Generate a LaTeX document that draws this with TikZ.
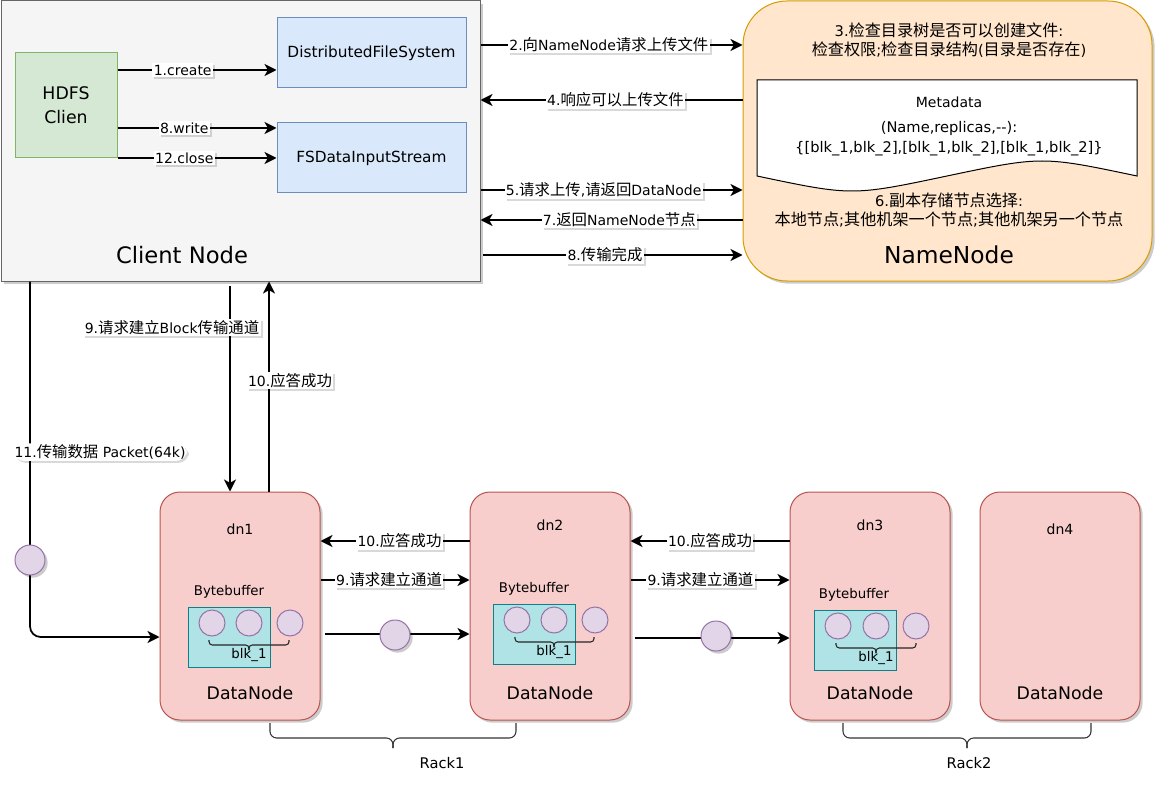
\documentclass[tikz,border=0pt]{standalone}
\usepackage{fontspec}
\setmainfont{DejaVu Sans}
\newfontfamily\cjk[Scale=1.1]{Noto Sans CJK SC}
\newcommand\zhs[1]{{\cjk #1}}
\usetikzlibrary{arrows.meta,shadows,fit}
\definecolor{clientF}{HTML}{F5F5F5}\definecolor{clientD}{HTML}{666666}
\definecolor{greenF}{HTML}{D5E8D4}\definecolor{greenD}{HTML}{82B366}
\definecolor{blueF}{HTML}{DAE8FC}\definecolor{blueD}{HTML}{6C8EBF}
\definecolor{orangeF}{HTML}{FFE6CC}\definecolor{orangeD}{HTML}{D79B00}
\definecolor{redF}{HTML}{F8CECC}\definecolor{redD}{HTML}{B85450}
\definecolor{tealF}{HTML}{B0E3E6}\definecolor{tealD}{HTML}{0E8088}
\definecolor{purpF}{HTML}{E1D5E7}\definecolor{purpD}{HTML}{9673A6}
\begin{document}
\begin{tikzpicture}[x=0.75pt,y=-0.75pt,
  font=\fontsize{10.5}{12.6}\selectfont,
  shd/.style={drop shadow={shadow xshift=2pt,shadow yshift=-2pt,opacity=0.2,fill=black}},
  lshd/.style={drop shadow={shadow xshift=1.5pt,shadow yshift=-1.5pt,opacity=0.15,fill=black}},
  box/.style={draw,line width=0.75pt,inner sep=0pt},
  arr/.style={line width=1.3pt,-{Stealth[length=9pt,width=9pt,inset=2.5pt]}},
  lbl/.style={fill=white,inner sep=1pt,font=\fontsize{10.5}{12.6}\selectfont,lshd},
  circ/.style={circle,draw=purpD,fill=purpF,line width=0.75pt,minimum size=22.5pt,inner sep=0pt},
  smallcirc/.style={circ,minimum size=19.5pt},
  dnbox/.style={box,draw=redD,fill=redF,rounded corners=15pt,shd},
  buf/.style={box,draw=tealD,fill=tealF},
  comp/.style={box,draw=blueD,fill=blueF,minimum width=141.75pt,minimum height=52.5pt,
               font=\fontsize{11.5}{14}\selectfont},
  brace/.style={draw=black!80,line width=0.8pt,rounded corners=5pt},
  sbrace/.style={draw=black!85,line width=0.8pt,rounded corners=2.5pt},
  dnname/.style={font=\fontsize{10.5}{12.6}\selectfont},
  dnlbl/.style={font=\fontsize{13}{15}\selectfont},
  buflbl/.style={font=\fontsize{10}{12}\selectfont},
  nntxt/.style={font=\fontsize{11}{13}\selectfont},
  racklbl/.style={font=\fontsize{11}{13}\selectfont}
]
\useasboundingbox (0,0) rectangle (1163,802);

% ---------- Client node ----------
\node[box,draw=clientD,fill=clientF,shd,fit={(1,1)(480,281)}] (client) {};
\node[font=\fontsize{17}{20}\selectfont] (clientlbl) at (182,255) {Client Node};
\node[box,draw=greenD,fill=greenF,minimum width=76.5pt,minimum height=78.75pt,align=center,
      font=\fontsize{13}{18}\selectfont] (hdfs) at (66,105.5) {HDFS\\Clien};
\node[comp] (dfs) at (371.5,53) {DistributedFileSystem};
\node[comp] (fsd) at (371.5,158) {FSDataInputStream};

\draw[arr] (hdfs.east |- 0,70) -- node[lbl,pos=.41]{1.create} (dfs.west |- 0,70);
\draw[arr] (hdfs.east |- 0,128) -- node[lbl,pos=.42]{8.write} (fsd.west |- 0,128);
\draw[arr] (hdfs.east |- 0,158) -- node[lbl,pos=.42]{12.close} (fsd.west |- 0,158);

% ---------- NameNode ----------
\node[box,draw=orangeD,fill=orangeF,rounded corners=33pt,shd,fit={(743,1)(1152,281)}] (nn) {};
\node[nntxt] (nn1) at (949,30) {3.\zhs{检查目录树是否可以创建文件}:};
\node[nntxt] (nn2) at (949,50) {\zhs{检查权限};\zhs{检查目录结构}(\zhs{目录是否存在})};
\draw[fill=white,draw=black,line width=0.75pt]
  (757,80) -- (1137,80) -- (1137,176) .. controls (1042,156) .. (947,176)
  .. controls (852,196) .. (757,176) -- cycle;
\node[font=\fontsize{10.5}{12.6}\selectfont] (meta) at (949,102) {Metadata};
\node[nntxt] (meta2) at (949,128) {(Name,replicas,-{}-):};
\node[nntxt] (meta3) at (949,149) {\{[blk\_1,blk\_2],[blk\_1,blk\_2],[blk\_1,blk\_2]\}};
\node[nntxt] (nn6) at (949,200) {6.\zhs{副本存储节点选择}:};
\node[nntxt] (nn7) at (949,220) {\zhs{本地节点};\zhs{其他机架一个节点};\zhs{其他机架另一个节点}};
\node[font=\fontsize{17.5}{20}\selectfont] (nnlbl) at (949,255) {NameNode};

\draw[arr] (client.east |- 0,45) -- node[lbl,pos=.49]{2.\zhs{向}NameNode\zhs{请求上传文件}} (nn.west |- 0,45);
\draw[arr] (nn.west |- 0,100) -- node[lbl,pos=.485]{4.\zhs{响应可以上传文件}} (client.east |- 0,100);
\draw[arr] (client.east |- 0,190) -- node[lbl,pos=.47]{5.\zhs{请求上传},\zhs{请返回}DataNode} (nn.west |- 0,190);
\draw[arr] (nn.west |- 0,220) -- node[lbl,pos=.47]{7.\zhs{返回}NameNode\zhs{节点}} (client.east |- 0,220);
\draw[arr] ([xshift=2pt]client.east |- 0,255) -- node[lbl,pos=.47]{8.\zhs{传输完成}} (nn.west |- 0,255);

% ---------- DataNodes ----------
\node[dnbox,fit={(160,492)(320,720)}] (dn1) {};
\node[dnbox,fit={(470,492)(630,720)}] (dn2) {};
\node[dnbox,fit={(790,492)(950,720)}] (dn3) {};
\node[dnbox,fit={(980,492)(1140,720)}] (dn4) {};

\node[dnname] (dn1n) at (240,529) {dn1};
\node[dnname] (dn2n) at (550,525) {dn2};
\node[dnname] (dn3n) at (870,525) {dn3};
\node[dnname] (dn4n) at (1060,529) {dn4};
\node[dnlbl] (dn1l) at (250,693) {DataNode};
\node[dnlbl] (dn2l) at (550,693) {DataNode};
\node[dnlbl] (dn3l) at (870,693) {DataNode};
\node[dnlbl] (dn4l) at (1060,693) {DataNode};

% buffers
\node[buflbl] (bb1) at (229,592) {Bytebuffer};
\node[buflbl] (bb2) at (534,589) {Bytebuffer};
\node[buflbl] (bb3) at (854,595) {Bytebuffer};
\node[buf,fit={(188,607)(270,667)}] (buf1) {};
\node[buf,fit={(493,604)(575,664)}] (buf2) {};
\node[buf,fit={(814,610)(896,670)}] (buf3) {};

\node[smallcirc] (c11) at (212,623) {};
\node[smallcirc] (c12) at (249,623) {};
\node[smallcirc] (c13) at (290,623) {};
\node[smallcirc] (c21) at (517,620) {};
\node[smallcirc] (c22) at (554,620) {};
\node[smallcirc] (c23) at (595,620) {};
\node[smallcirc] (c31) at (838,626) {};
\node[smallcirc] (c32) at (876,626) {};
\node[smallcirc] (c33) at (916,626) {};

\draw[sbrace] (209,640) -- (209,645) -- (249,645) -- (249,650);
\draw[sbrace] (289,640) -- (289,645) -- (249,645) -- (249,650);
\draw[sbrace] (515,637) -- (515,642) -- (554,642) -- (554,647);
\draw[sbrace] (594,637) -- (594,642) -- (554,642) -- (554,647);
\draw[sbrace] (836,643) -- (836,648) -- (876,648) -- (876,653);
\draw[sbrace] (916,643) -- (916,648) -- (876,648) -- (876,653);
\node[buflbl] (blk1) at (249,655) {blk\_1};
\node[buflbl] (blk2) at (554,652) {blk\_1};
\node[buflbl] (blk3) at (876,658) {blk\_1};

% arrows between datanodes
\draw[arr] (dn2.west |- 0,541) -- node[lbl,pos=.47]{10.\zhs{应答成功}} (dn1.east |- 0,541);
\draw[arr] (dn1.east |- 0,580) -- node[lbl,pos=.46]{9.\zhs{请求建立通道}} (dn2.west |- 0,580);
\draw[arr,shorten <=3pt] (dn1.east |- 0,634) -- (dn2.west |- 0,634);
\node[circ,shd] (p1) at (395,635) {};
\draw[arr] (dn3.west |- 0,541) -- node[lbl,pos=.5]{10.\zhs{应答成功}} (dn2.east |- 0,541);
\draw[arr] (dn2.east |- 0,580) -- node[lbl,pos=.44]{9.\zhs{请求建立通道}} (dn3.west |- 0,580);
\draw[arr,shorten <=3pt] (dn2.east |- 0,638) -- (dn3.west |- 0,638);
\node[circ,shd] (p2) at (716,636) {};

% vertical arrows client <-> dn1
\draw[arr,shorten <=3pt] (client.south -| 230,0) -- node[lbl,pos=.22,xshift=-43.5pt]{9.\zhs{请求建立}Block\zhs{传输通道}} (dn1.north -| 230,0);
\draw[arr] (dn1.north -| 269,0) -- node[lbl,pos=.53,xshift=15.75pt]{10.\zhs{应答成功}} (client.south -| 269,0);
\draw[arr,rounded corners=8pt] (client.south -| 30,0) -- node[lbl,pos=.48,xshift=52.5pt]{11.\zhs{传输数据} Packet(64k)} (30,637) -- (dn1.west |- 0,637);
\node[circ,shd] (p0) at (30,560) {};

% racks
\draw[brace] (270,723) -- (270,738) -- (393,738) -- (393,748);
\draw[brace] (516,723) -- (516,738) -- (393,738) -- (393,748);
\node[racklbl] (rack1) at (442,763) {Rack1};
\draw[brace] (843,723) -- (843,738) -- (967,738) -- (967,748);
\draw[brace] (1091,723) -- (1091,738) -- (967,738) -- (967,748);
\node[racklbl] (rack2) at (969,763) {Rack2};
\end{tikzpicture}
\end{document}
